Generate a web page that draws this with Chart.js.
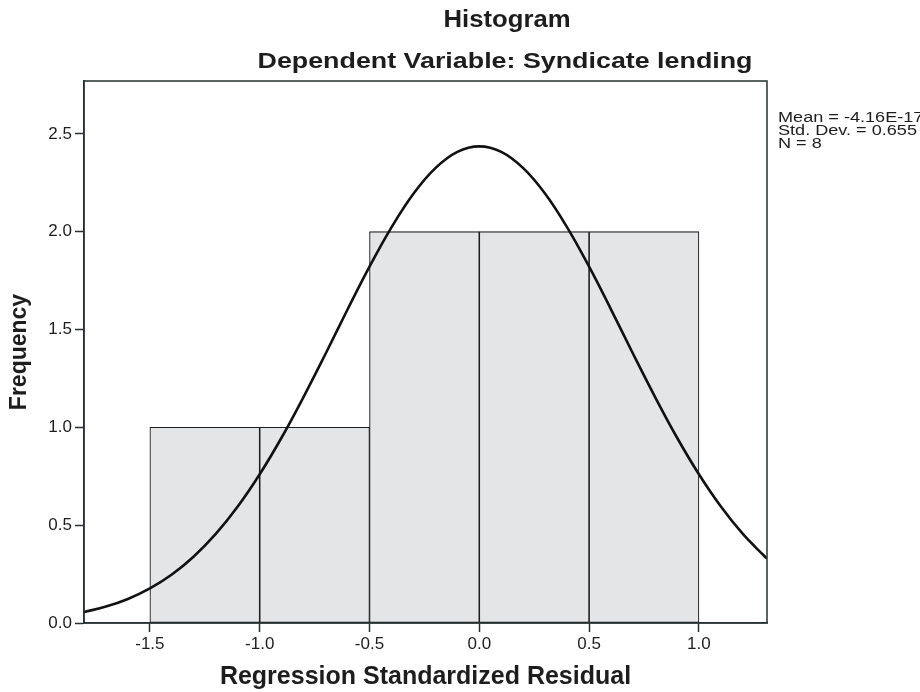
<!DOCTYPE html>
<html>
<head>
<meta charset="utf-8">
<script src="https://cdn.jsdelivr.net/npm/chart.js@4/dist/chart.umd.min.js"></script>
<style>
  html, body { margin: 0; padding: 0; background: #fff; }
  canvas { display: block; }
</style>
</head>
<body>
<canvas id="chart" width="920" height="692"></canvas>
<script>
// histogram bins (centre of each 0.5 wide bin) and their counts
const binCenters = [-1.25, -0.75, -0.25, 0.25, 0.75];
const binCounts  = [1, 1, 2, 2, 2];

// normal curve
const curveX = [-1.8, -1.7, -1.6, -1.5, -1.4, -1.3, -1.2, -1.1, -1.0, -0.9, -0.8,
                -0.7, -0.6, -0.5, -0.4, -0.3, -0.2, -0.1, 0.0, 0.1, 0.2, 0.3,
                0.4, 0.5, 0.6, 0.7, 0.8, 0.9, 1.0, 1.1, 1.2, 1.3, 1.31];
const curveY = [0.056, 0.084, 0.123, 0.177, 0.248, 0.340, 0.455, 0.595, 0.760, 0.948, 1.156,
                1.376, 1.602, 1.821, 2.022, 2.194, 2.325, 2.408, 2.436, 2.408, 2.325, 2.194,
                2.022, 1.821, 1.602, 1.376, 1.156, 0.948, 0.760, 0.595, 0.455, 0.340, 0.330];

const xTicks = [-1.5, -1.0, -0.5, 0.0, 0.5, 1.0];
const yTicks = [0.0, 0.5, 1.0, 1.5, 2.0, 2.5];

const titleText = 'Histogram';
const subtitleText = 'Dependent Variable: Syndicate lending';
const statsLines = ['Mean = -4.16E-17', 'Std. Dev. = 0.655', 'N = 8'];
const xTitle = 'Regression Standardized Residual';
const yTitle = 'Frequency';

const FONT = '"Liberation Sans", Arial, Helvetica, sans-serif';
const INK = '#1d1d1d';
const FRAME = '#263030';

// text in the scan is a little wider than Arial, so stretch it to the measured width
function stretchedText(ctx, text, x, y, font, k, align) {
  ctx.save();
  ctx.font = font;
  ctx.fillStyle = INK;
  ctx.textAlign = align;
  ctx.textBaseline = 'alphabetic';
  ctx.translate(x, y);
  ctx.scale(k, 1);
  ctx.fillText(text, 0, 0);
  ctx.restore();
}

const textPlugin = {
  id: 'texts',
  afterDraw(chart) {
    const ctx = chart.ctx;
    let f = 'bold 23px ' + FONT;
    ctx.font = f;
    stretchedText(ctx, titleText, 507, 27, f, 127 / ctx.measureText(titleText).width, 'center');
    f = 'bold 22px ' + FONT;
    ctx.font = f;
    stretchedText(ctx, subtitleText, 505, 68, f, 495 / ctx.measureText(subtitleText).width, 'center');

    f = '14px ' + FONT;
    ctx.font = f;
    const k = 139 / ctx.measureText(statsLines[1]).width;
    statsLines.forEach(function(line, i){
      stretchedText(ctx, line, 778, 122 + i * 13, f, k, 'left');
    });
  }
};

const framePlugin = {
  id: 'frame',
  afterDatasetsDraw(chart) {
    const a = chart.chartArea;
    const ctx = chart.ctx;
    ctx.save();
    ctx.strokeStyle = FRAME;
    ctx.lineWidth = 1.5;
    ctx.strokeRect(a.left, a.top, a.right - a.left, a.bottom - a.top);
    ctx.restore();
  }
};

const bars = binCenters.map(function(x, i){ return { x: x, y: binCounts[i] }; });
const curve = curveX.map(function(x, i){ return { x: x, y: curveY[i] }; });

new Chart(document.getElementById('chart'), {
  type: 'bar',
  data: {
    datasets: [
      {
        type: 'line',
        data: curve,
        borderColor: '#111',
        borderWidth: 2.6,
        pointRadius: 0,
        tension: 0.4,
        fill: false,
        order: 0
      },
      {
        type: 'bar',
        data: bars,
        backgroundColor: '#e4e5e6',
        borderColor: '#1c1c1c',
        borderWidth: 1.1,
        borderSkipped: false,
        barPercentage: 1,
        categoryPercentage: 1,
        order: 1
      }
    ]
  },
  options: {
    responsive: false,
    animation: false,
    layout: { padding: { top: 81, right: 153, left: 0, bottom: 0 } },
    plugins: {
      legend: { display: false },
      tooltip: { enabled: false }
    },
    scales: {
      x: {
        type: 'linear',
        min: -1.8,
        max: 1.31,
        offset: false,
        grid: {
          offset: false,
          drawOnChartArea: false,
          drawTicks: true,
          tickLength: 9,
          tickWidth: 1.5,
          tickColor: FRAME
        },
        border: { display: true, color: FRAME, width: 1.5 },
        ticks: {
          font: { family: FONT, size: 17 },
          color: INK,
          padding: 2,
          maxRotation: 0,
          autoSkip: false,
          callback: function(v){ return Number(v).toFixed(1); }
        },
        afterBuildTicks: function(s){ s.ticks = xTicks.map(function(v){ return { value: v }; }); },
        afterFit: function(s){ s.height = 69; },
        title: {
          display: true,
          text: xTitle,
          color: INK,
          font: { family: FONT, size: 25, weight: 'bold', lineHeight: 1 },
          padding: { top: 0, bottom: 2 }
        }
      },
      y: {
        min: 0,
        max: 2.77,
        grid: {
          drawOnChartArea: false,
          drawTicks: true,
          tickLength: 9,
          tickWidth: 1.5,
          tickColor: FRAME
        },
        border: { display: true, color: FRAME, width: 1.5 },
        ticks: {
          font: { family: FONT, size: 17 },
          color: INK,
          padding: 3,
          callback: function(v){ return Number(v).toFixed(1); }
        },
        afterBuildTicks: function(s){ s.ticks = yTicks.map(function(v){ return { value: v }; }); },
        afterFit: function(s){ s.width = 84; },
        title: {
          display: true,
          text: yTitle,
          color: INK,
          font: { family: FONT, size: 23, weight: 'bold', lineHeight: 1 },
          padding: { top: 8, bottom: 0 }
        }
      }
    }
  },
  plugins: [framePlugin, textPlugin]
});
</script>
</body>
</html>
